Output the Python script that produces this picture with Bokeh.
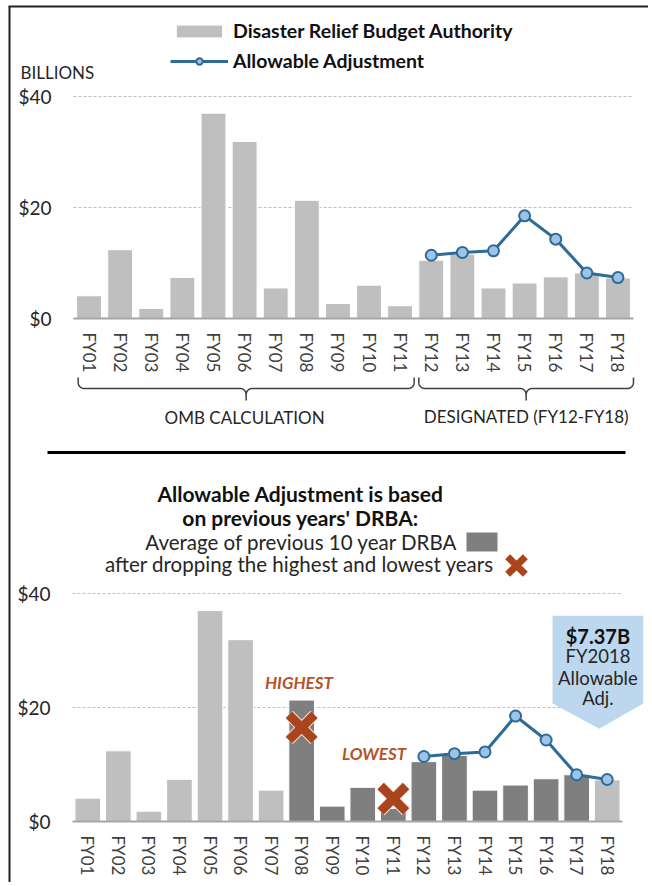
import math
from bokeh.plotting import figure
from bokeh.models import (Range1d, FixedTicker, NumeralTickFormatter, Legend, LegendItem,
                          LinearAxis)
from bokeh.embed import file_html
from bokeh.resources import INLINE
from bokeh.core.properties import value

# ---------------- data ----------------
years = ["FY01", "FY02", "FY03", "FY04", "FY05", "FY06", "FY07", "FY08", "FY09",
         "FY10", "FY11", "FY12", "FY13", "FY14", "FY15", "FY16", "FY17", "FY18"]
drba = [4.1, 12.4, 1.8, 7.4, 37.0, 31.9, 5.5, 21.3, 2.7,
        6.0, 2.3, 10.5, 11.6, 5.5, 6.4, 7.5, 8.2, 7.3]
adj_years = ["FY12", "FY13", "FY14", "FY15", "FY16", "FY17", "FY18"]
adj = [11.4, 11.9, 12.2, 18.5, 14.3, 8.2, 7.37]
y_ticks = [0, 20, 40]
legend_labels = ["Disaster Relief Budget Authority", "Allowable Adjustment"]
unit_label = "BILLIONS"
group_labels = ["OMB CALCULATION", "DESIGNATED (FY12-FY18)"]
title_lines = ["Allowable Adjustment is based", "on previous years' DRBA:"]
note_lines = ["Average of previous 10 year DRBA", "after dropping the highest and lowest years"]
mark_labels = ["HIGHEST", "LOWEST"]
callout_lines = ["FY2018", "Allowable", "Adj."]

# ---------------- styles ----------------
FONT = "Lato"
LIGHT = "#BFBFBF"
DARK = "#7F7F7F"
BLUE = "#2E6C97"
LBLUE = "#9DC3E6"
RUST = "#A9441C"
RUST_TXT = "#B4532A"
CALLOUT = "#BDD7EE"
AXIS = "#A6A6A6"
GRID = "#BFBFBF"
TXT = "#262626"

n = len(years)
xs = list(range(n))
adj_x = [years.index(y) for y in adj_years]

# ---------------- canvas layout (page pixels) ----------------
W, H = 648, 882
XA0, PXA = 73, 560 / 18      # top chart: left edge of plot area, px per year
YA0, SA = 318, 5.55          # top chart: $0 baseline, px per billion
XB0, PXD = 72, 550 / 18      # bottom chart
YB0, SD = 821, 5.7

p = figure(width=W, height=H, x_range=Range1d(0, W), y_range=Range1d(H, 0),
           output_backend="svg", toolbar_location=None, title=None, min_border=0,
           x_axis_type=None, y_axis_type=None)
p.outline_line_color = None
p.background_fill_color = "white"
p.border_fill_color = "white"
p.extra_x_ranges = {
    "xa": Range1d(-0.5 - XA0 / PXA, -0.5 + (W - XA0) / PXA),
    "xb": Range1d(-0.5 - XB0 / PXD, -0.5 + (W - XB0) / PXD),
}
p.extra_y_ranges = {
    "ya": Range1d(-(H - YA0) / SA, YA0 / SA),
    "yb": Range1d(-(H - YB0) / SD, YB0 / SD),
}


def add_axes(xr, yr):
    xax = LinearAxis(x_range_name=xr, y_range_name=yr, fixed_location=0, bounds=(-0.5, n - 0.5),
                     ticker=FixedTicker(ticks=xs),
                     major_label_overrides={i: y for i, y in enumerate(years)},
                     major_label_orientation="vertical", major_tick_line_color=None,
                     minor_tick_line_color=None, axis_line_color=AXIS, axis_line_width=2,
                     major_label_standoff=8, major_label_text_font=FONT,
                     major_label_text_font_size="17px", major_label_text_color="#404040")
    p.add_layout(xax, "below")
    yax = LinearAxis(x_range_name=xr, y_range_name=yr, fixed_location=-0.5,
                     ticker=FixedTicker(ticks=y_ticks), formatter=NumeralTickFormatter(format="$0"),
                     axis_line_color=None, major_tick_line_color=None, minor_tick_line_color=None,
                     major_label_standoff=16, major_label_text_font=FONT,
                     major_label_text_font_size="19px", major_label_text_color=TXT)
    p.add_layout(yax, "left")
    gv = [t for t in y_ticks if t > 0]
    p.segment(x0=[-0.5] * len(gv), x1=[n - 0.5] * len(gv), y0=gv, y1=gv,
              line_color=GRID, line_dash="3 2", line_width=1,
              x_range_name=xr, y_range_name=yr, level="underlay")


# outer frame lines
p.segment(x0=[8, 9], x1=[W, 9], y0=[6, 6], y1=[6, H], line_color="#222222", line_width=2)

# ================= top chart =================
add_axes("xa", "ya")
bars_a = p.vbar(x=xs, top=drba, width=0.8, fill_color=LIGHT, line_color="white", line_width=1,
                x_range_name="xa", y_range_name="ya")
line_a = p.line(adj_x, adj, line_color=BLUE, line_width=3, x_range_name="xa", y_range_name="ya")
pts_a = p.scatter(adj_x, adj, size=11, fill_color=LBLUE, line_color=BLUE, line_width=2,
                  x_range_name="xa", y_range_name="ya")

legend = Legend(items=[LegendItem(label=legend_labels[0], renderers=[bars_a]),
                       LegendItem(label=legend_labels[1], renderers=[line_a, pts_a])],
                location=(170, H - 74), orientation="vertical", padding=0, margin=0, spacing=3,
                glyph_width=58, glyph_height=16, label_height=27, label_standoff=5,
                label_text_font=FONT, label_text_font_size="19.5px", label_text_font_style="bold",
                label_text_color="#111111", border_line_color=None, background_fill_alpha=0)
p.add_layout(legend)

p.text(x=[20], y=[72], text=[unit_label], text_font=value(FONT), text_font_size="17px",
       text_align="left", text_baseline="middle", text_color=TXT)


# ================= brackets, separator, explanation =================
def brace(x0, x1, top, mid, tip, r_px=6):
    rx = r_px / PXA
    xm = (x0 + x1) / 2
    steps = 8

    def arc(cx, cy, a0, a1):
        return ([cx + rx * math.cos(a0 + (a1 - a0) * k / steps) for k in range(steps + 1)],
                [cy + r_px * math.sin(a0 + (a1 - a0) * k / steps) for k in range(steps + 1)])
    a = arc(x0 + rx, mid - r_px, math.pi, math.pi / 2)
    b = arc(xm - rx, mid + r_px, -math.pi / 2, 0)
    lx = [x0] + a[0] + b[0] + [xm]
    ly = [top] + a[1] + b[1] + [tip]
    c = arc(xm + rx, mid + r_px, math.pi, 3 * math.pi / 2)
    d = arc(x1 - rx, mid - r_px, math.pi / 2, 0)
    rxs = [xm] + c[0] + d[0] + [x1]
    rys = [mid + r_px] + c[1] + d[1] + [top]
    return [lx, rxs], [ly, rys]


half = 0.4
g1 = brace(0 - half + 0.05, 10 + half + 0.05, 377, 388, 400)
g2 = brace(11 - half, n - 1 + half + 0.1, 377, 388, 400)
p.multi_line(g1[0] + g2[0], g1[1] + g2[1], line_color="#404040", line_width=1.5, x_range_name="xa")
p.text(x=[(0 + 10) / 2, (11 + n - 1) / 2 + 0.05], y=[417, 416], text=group_labels,
       text_font=value(FONT), text_font_size="17px", text_align="center",
       text_baseline="middle", text_color=TXT, x_range_name="xa")

p.segment(x0=[47], x1=[625], y0=[452], y1=[452], line_color="black", line_width=3)

p.text(x=[300, 300], y=[493, 516.5], text=title_lines, text_font=value(FONT), text_font_size="21px",
       text_font_style="bold", text_align="center", text_baseline="middle", text_color="#111111")
p.text(x=[301, 299], y=[541.5, 563.5], text=note_lines, text_font=value(FONT), text_font_size="20.5px",
       text_align="center", text_baseline="middle", text_color=TXT)
p.quad(left=[466], right=[497], top=[532], bottom=[551], fill_color=DARK, line_color=None)
p.scatter([516], [565], marker="x", size=25, line_color="white", line_width=9)
p.scatter([516], [565], marker="x", size=25, line_color=RUST, line_width=7)

# ================= bottom chart =================
add_axes("xb", "yb")
win_lo, win_hi = n - 11, n - 2
colors = [DARK if win_lo <= i <= win_hi else LIGHT for i in xs]
p.vbar(x=xs, top=drba, width=0.84, fill_color=colors, line_color="white", line_width=1,
       x_range_name="xb", y_range_name="yb")
p.line(adj_x, adj, line_color=BLUE, line_width=3, x_range_name="xb", y_range_name="yb")
p.scatter(adj_x, adj, size=11, fill_color=LBLUE, line_color=BLUE, line_width=2,
          x_range_name="xb", y_range_name="yb")

window = list(range(win_lo, win_hi + 1))
hi_i = max(window, key=lambda i: drba[i])
lo_i = min(window, key=lambda i: drba[i])
mx = [hi_i, lo_i]
my = [drba[hi_i] - 4.8, drba[lo_i] + 1.7]
p.scatter(mx, my, marker="x", size=36, line_color="#F3E2DA", line_width=11,
          x_range_name="xb", y_range_name="yb")
p.scatter(mx, my, marker="x", size=36, line_color=RUST, line_width=9,
          x_range_name="xb", y_range_name="yb")
p.text(x=[hi_i - 0.09, lo_i - 0.63], y=[drba[hi_i] + 3.0, drba[lo_i] + 9.7], text=mark_labels,
       text_font=value(FONT), text_font_size="17px", text_font_style="bold italic",
       text_align="center", text_baseline="middle", text_color=RUST_TXT,
       x_range_name="xb", y_range_name="yb")

# callout for the latest allowable adjustment
last = n - 1
cl, cr, ct, cb = last - 1.79, last + 1.18, 36.1, 20.7
tip_x, tip_y = last - 0.26, adj[-1] + 8.9
p.patch([cl, cr, cr, tip_x, cl], [ct, ct, cb, tip_y, cb], fill_color=CALLOUT, line_color=None,
        x_range_name="xb", y_range_name="yb")
ccx = (cl + cr) / 2
p.text(x=[ccx], y=[32.6], text=["$%.2fB" % adj[-1]], text_font=value(FONT), text_font_size="20px",
       text_font_style="bold", text_align="center", text_baseline="middle", text_color="#111111",
       x_range_name="xb", y_range_name="yb")
p.text(x=[ccx] * 3, y=[29.0, 25.2, 21.6], text=callout_lines, text_font=value(FONT),
       text_font_size="18.5px", text_align="center", text_baseline="middle", text_color=TXT,
       x_range_name="xb", y_range_name="yb")

open("out.html", "w").write(file_html(p, INLINE))
